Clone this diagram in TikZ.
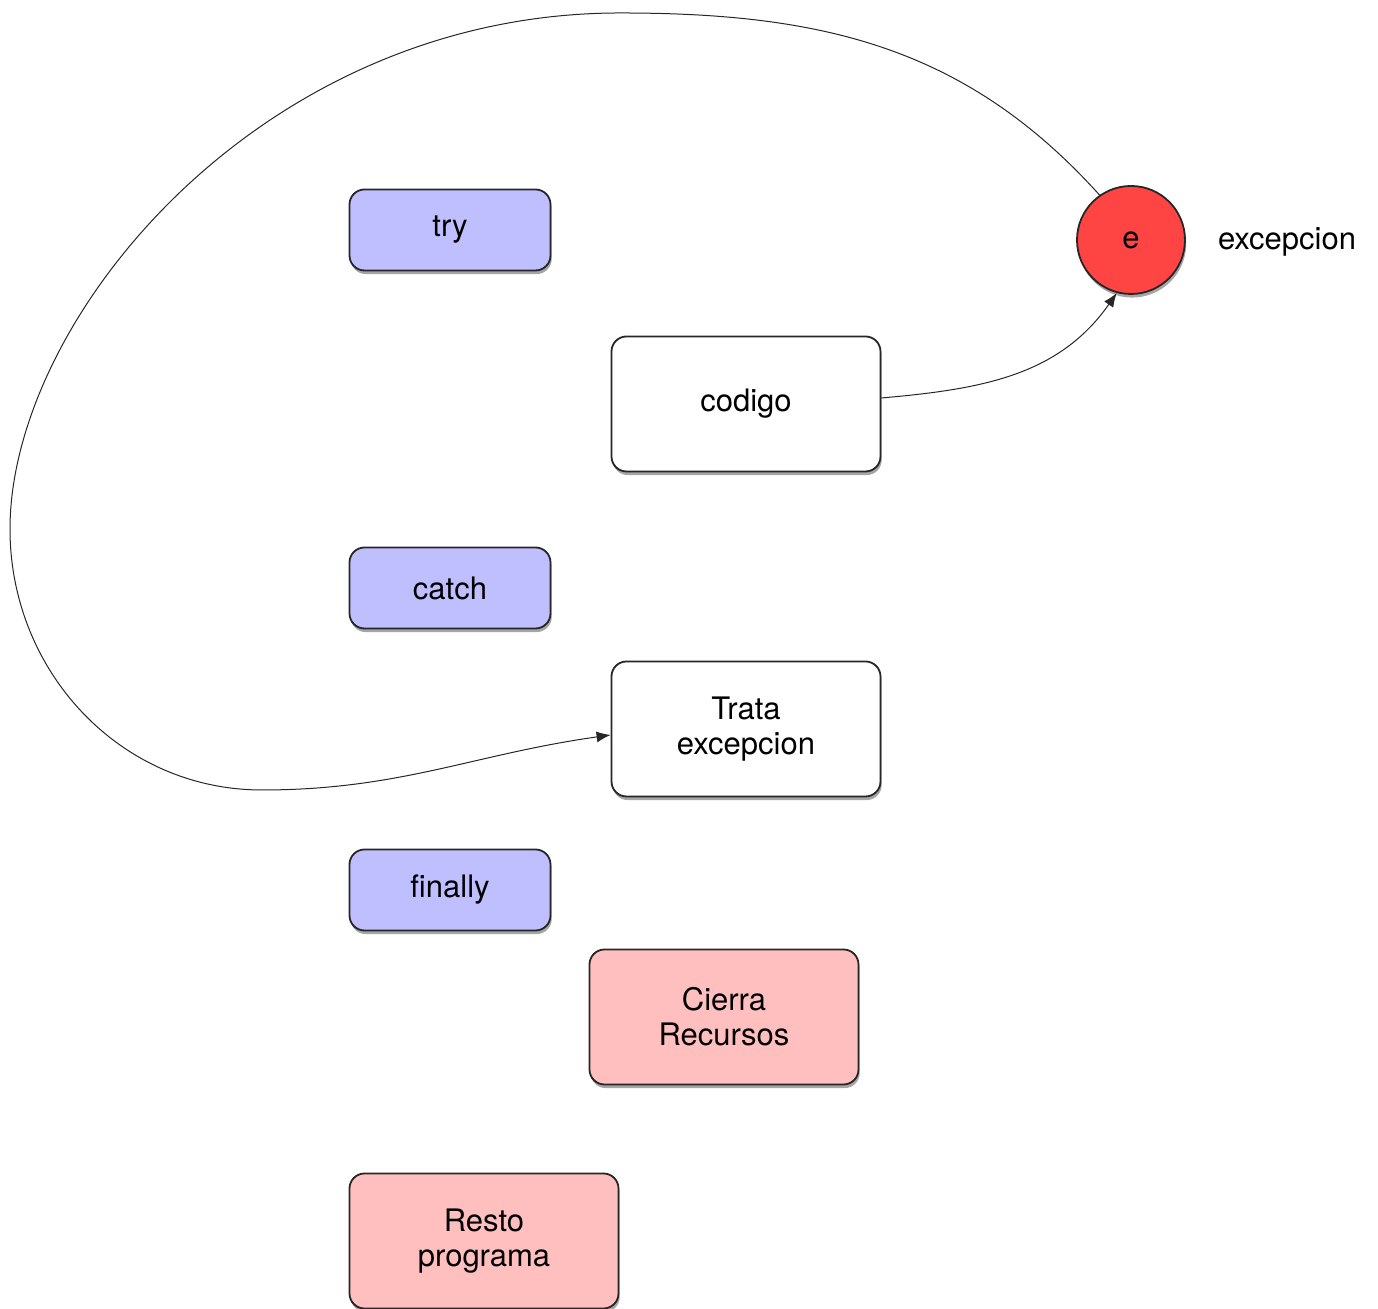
\documentclass[tikz,border=0pt]{standalone}
\usepackage{fontspec}
\setmainfont{TeX Gyre Heros}
\usepackage{tikz}
\usetikzlibrary{arrows.meta, shadows}
\definecolor{kwblue}{HTML}{BFBFFF}
\definecolor{finpink}{HTML}{FFBFBF}
\definecolor{exred}{HTML}{FF4444}

\begin{document}
\begin{tikzpicture}[x=0.5pt, y=0.5pt,
    font=\fontsize{15.5}{17.5}\selectfont,
    box/.style={draw=black!85, line width=0.9pt, rounded corners=7.5pt,
                align=center, inner sep=0pt,
                drop shadow={shadow xshift=0.6pt, shadow yshift=-1.8pt,
                             opacity=0.5, fill=black!70}},
    keyword/.style={box, fill=kwblue, minimum width=100.5pt, minimum height=40.5pt},
    action/.style={box, fill=white, minimum width=134.5pt, minimum height=67.5pt},
    closing/.style={box, fill=finpink, minimum width=134.5pt, minimum height=67.5pt},
    conn/.style={draw=black!85, line width=0.5pt, -{Latex[length=7pt, width=5.5pt]}}]
  \useasboundingbox (0,0) rectangle (1378,1309);

  % bloques
  \node[keyword] (try)     at (450,1079) {try};
  \node[action]  (codigo)  at (746,905)  {codigo};
  \node[keyword] (catch)   at (450,721)  {catch};
  \node[action]  (trata)   at (746,580)  {Trata\\excepcion};
  \node[keyword] (finally) at (450,419)  {finally};
  \node[closing] (cierra)  at (724,292)  {Cierra\\Recursos};
  \node[closing] (resto)   at (484,68)   {Resto\\programa};

  % la excepcion
  \node[circle, draw=black!85, line width=0.9pt, fill=exred,
        minimum size=54pt, inner sep=0pt,
        drop shadow={shadow xshift=0.6pt, shadow yshift=-1.8pt,
                     opacity=0.5, fill=black!70}] (e) at (1131,1069) {e};
  \node (exlabel) at (1287,1067) {excepcion};

  % puntos de paso del lazo
  \coordinate (loopTop)  at (620,1296);
  \coordinate (loopLeft) at (10,780);
  \coordinate (loopBot)  at (262,519);

  \draw[conn] ([yshift=3pt]codigo.east) to[out=5, in=235] (e.-105);
  \draw[conn] (e.125) to[out=132, in=0] (loopTop)
              .. controls (260,1296) and (10,990) .. (loopLeft)
              to[out=-90, in=180] (loopBot)
              to[out=0, in=188] ([yshift=-3pt]trata.west);
\end{tikzpicture}
\end{document}
